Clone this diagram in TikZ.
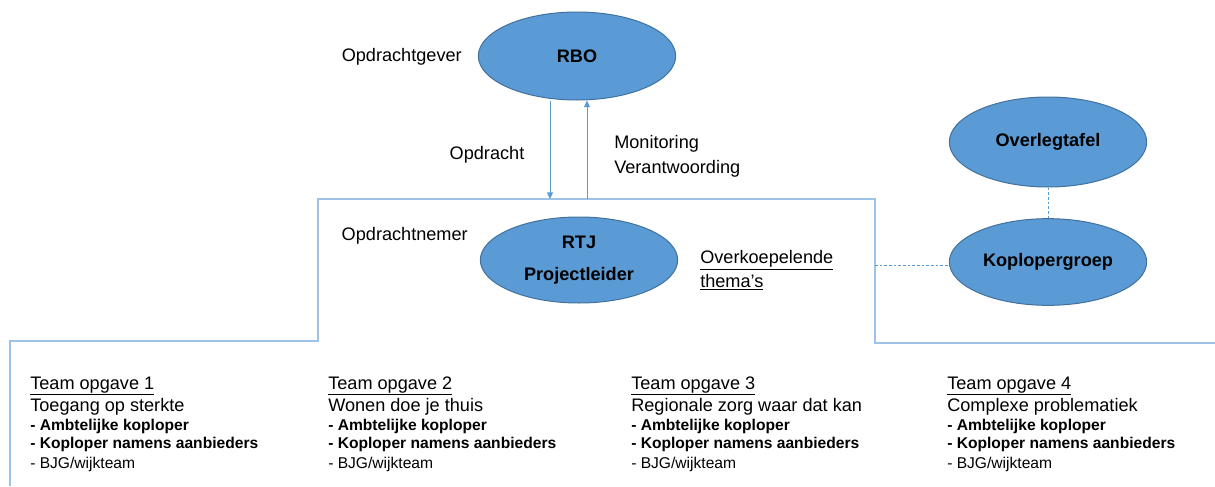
\documentclass[tikz,border=0pt]{standalone}
\usepackage{fontspec}
\setmainfont{Liberation Sans}
\usetikzlibrary{shapes.geometric, arrows.meta}
\definecolor{ovalfill}{RGB}{91,155,213}
\definecolor{ovaldraw}{RGB}{65,113,156}
\definecolor{framecol}{RGB}{157,195,230}
\definecolor{arrowcol}{RGB}{91,155,213}
\newcommand{\bigtxt}{\fontsize{13.6}{16}\selectfont}
\newcommand{\smalltxt}{\fontsize{11.7}{14}\selectfont}
\begin{document}
\begin{tikzpicture}[
  x=0.75pt, y=-0.75pt,
  oval/.style={ellipse, draw=ovaldraw, line width=0.75pt, fill=ovalfill, minimum width=148pt, minimum height=66pt, inner sep=0pt, font=\bigtxt\bfseries, align=center},
  lbl/.style={font=\bigtxt, inner sep=0pt},
  frameline/.style={draw=framecol, line width=1pt},
  flow/.style={draw=arrowcol, line width=0.75pt, -{Triangle[length=5pt, width=4.5pt]}},
  linkline/.style={draw=arrowcol, line width=0.6pt, dash pattern=on 2pt off 1.5pt}
]
  \useasboundingbox (0,0) rectangle (1215,486);

  % ellipses
  \node[oval] (rbo) at (577, 56) {RBO};
  \node[oval, minimum height=64.5pt] (rtj) at (579, 260) {RTJ\\[8pt]Projectleider};
  \node[oval, minimum height=67.5pt] (ovl) at (1048, 142) {Overlegtafel};
  \node[oval, minimum height=65pt] (kop) at (1048, 262) {Koplopergroep};

  % frame
  \draw[frameline] (10,486) -- (10,341) -- (318,341) -- (318,199) -- (875,199) -- (875,343) -- (1215,343);

  % labels
  \node[lbl, anchor=east] (gever) at (462, 57) {Opdrachtgever};
  \node[lbl, anchor=east] (nemer) at (468, 236) {Opdrachtnemer};
  \node[lbl] (opdr) at (487, 155) {Opdracht};
  \node[lbl, anchor=west, align=left] (moni) at (614, 156) {Monitoring\\[3pt]Verantwoording};
  \node[lbl, anchor=west, align=left] (thema) at (700, 270) {\underline{Overkoepelende}\\[2pt]\underline{thema's}};

  % connectors
  \coordinate (opIn) at (550, 199);
  \coordinate (monOut) at (587, 199);
  \coordinate (themaIn) at (875, 265);
  \draw[flow] (opIn |- rbo.south) -- (opIn);
  \draw[flow] (monOut) -- (monOut |- rbo.south);
  \draw[linkline] (ovl) -- (kop);
  \draw[linkline] (themaIn) -- (themaIn -| kop.west);

  % team blocks
  \foreach \xx/\nr/\naam in {30/1/Toegang op sterkte, 328/2/Wonen doe je thuis, 631/3/Regionale zorg waar dat kan, 947/4/Complexe problematiek}{
    \node[lbl, anchor=base west] (team\nr) at (\xx, 389) {\underline{Team opgave \nr}};
    \node[lbl, anchor=base west] (naam\nr) at (\xx, 411) {\naam};
    \node[lbl, anchor=base west, font=\smalltxt\bfseries] (amb\nr) at (\xx, 430) {- Ambtelijke koploper};
    \node[lbl, anchor=base west, font=\smalltxt\bfseries] (aanb\nr) at (\xx, 448) {- Koploper namens aanbieders};
    \node[lbl, anchor=base west, font=\smalltxt] (bjg\nr) at (\xx, 468) {- BJG/wijkteam};
  }
\end{tikzpicture}
\end{document}
